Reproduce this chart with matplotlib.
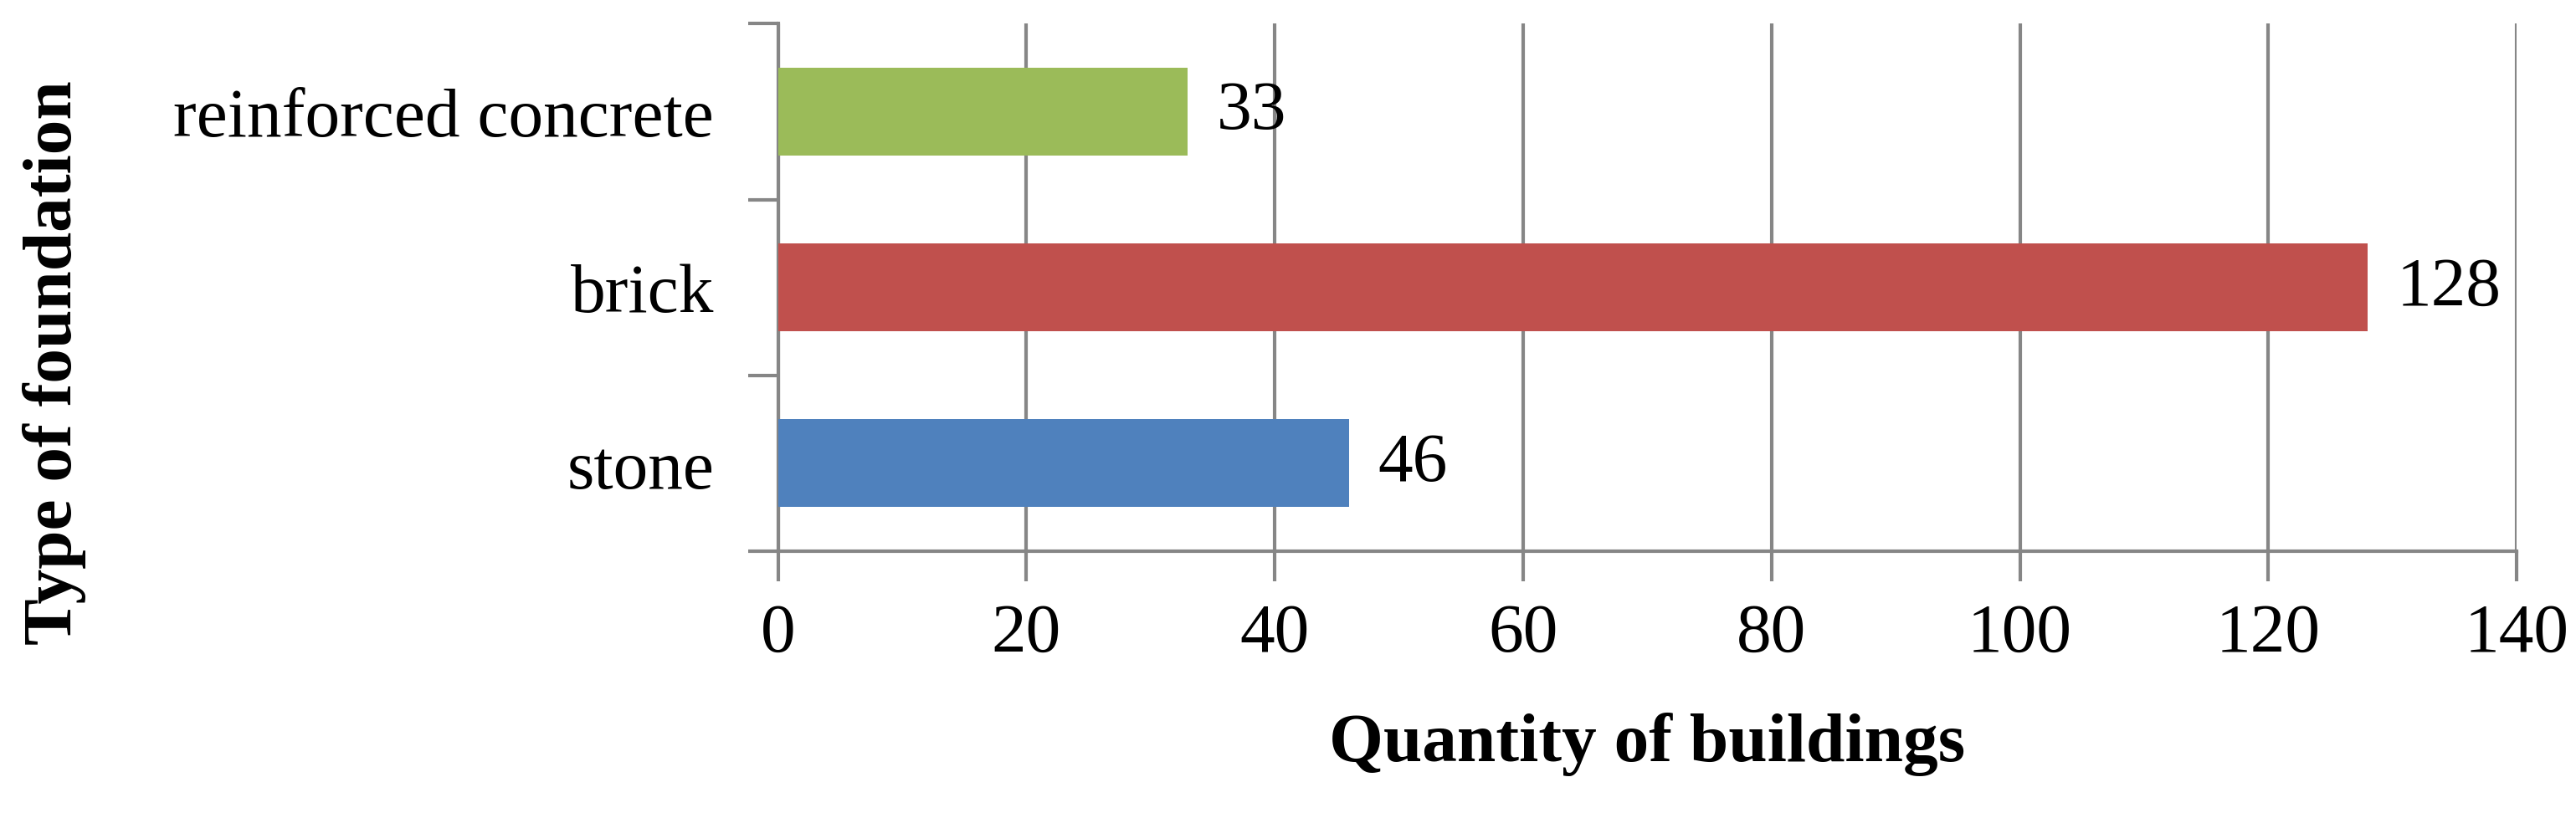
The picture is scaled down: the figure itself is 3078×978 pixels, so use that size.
import matplotlib.pyplot as plt
from matplotlib.ticker import FixedLocator

categories = ["stone", "brick", "reinforced concrete"]
values = [46, 128, 33]
colors = ["#4F81BD", "#C0504D", "#9BBB59"]
x_ticks = [0, 20, 40, 60, 80, 100, 120, 140]

plt.rcParams["font.family"] = ["Liberation Serif", "DejaVu Serif"]

fig = plt.figure(figsize=(30.78, 9.79), dpi=100)
ax = fig.add_axes([0.302, 0.326, 0.675, 0.644])

pos = list(range(len(categories)))
ax.barh(pos, values, height=0.5, color=colors, zorder=3)
for p, v in zip(pos, values):
    ax.text(v + 2.3, p, str(v), va="center", ha="left", fontsize=60, zorder=4)

ax.set_xlim(0, 140)
ax.set_ylim(-0.5, 2.5)
ax.set_xticks(x_ticks)
ax.set_yticks(pos)
ax.set_yticklabels(categories)
ax.yaxis.set_minor_locator(FixedLocator([-0.5, 0.5, 1.5, 2.5]))
ax.tick_params(axis="y", which="major", length=0, pad=55, labelsize=60)
ax.tick_params(axis="y", which="minor", length=26, width=3, color="#868686")
ax.tick_params(axis="x", length=26, width=3, color="#868686", labelsize=60, pad=18)
ax.grid(axis="x", color="#868686", linewidth=3, zorder=0)

for s in ["top", "right"]:
    ax.spines[s].set_visible(False)
for s in ["left", "bottom"]:
    ax.spines[s].set_color("#868686")
    ax.spines[s].set_linewidth(3)

ax.set_xlabel("Quantity of buildings", fontsize=60, fontweight="bold", labelpad=40)
fig.text(0.021, 0.557, "Type of foundation", rotation=90, fontsize=60,
         fontweight="bold", va="center", ha="center")

fig.savefig("out.png", dpi=100)
